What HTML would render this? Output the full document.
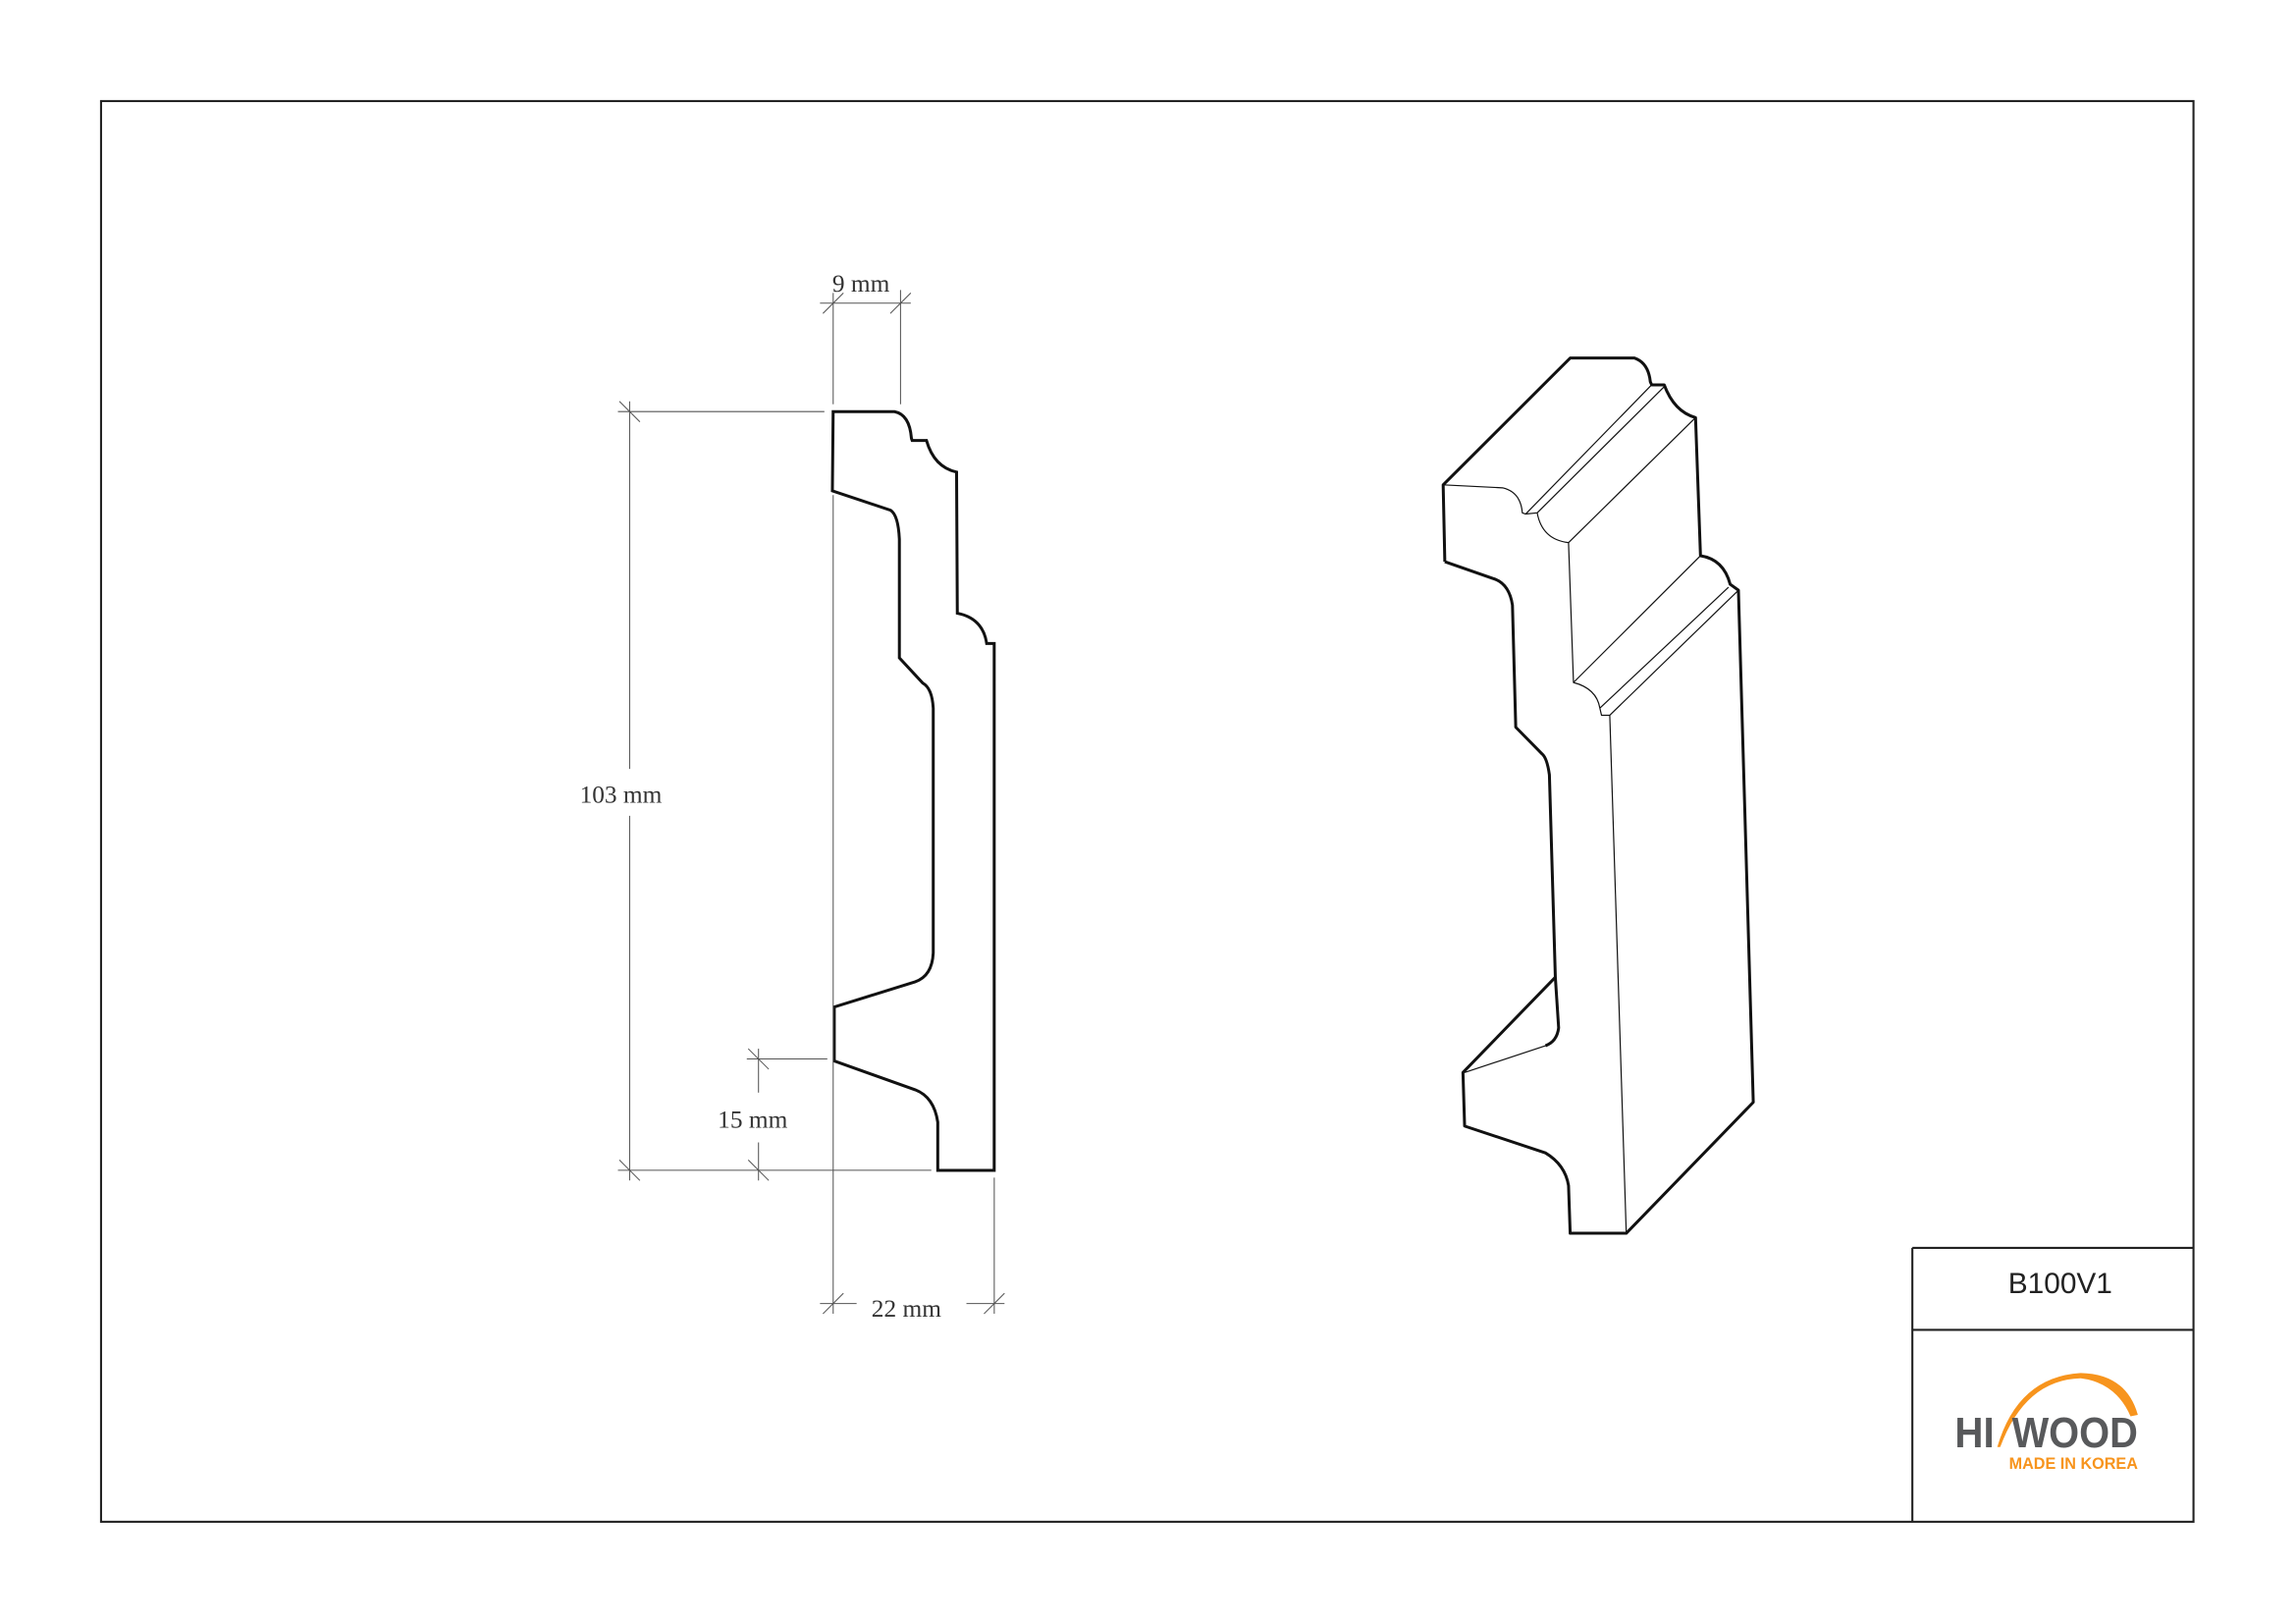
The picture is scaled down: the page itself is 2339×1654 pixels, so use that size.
<!DOCTYPE html>
<html><head><meta charset="utf-8"><style>html,body{margin:0;padding:0;background:#fff}svg{display:block}</style></head>
<body>
<svg width="2339" height="1654" viewBox="0 0 1568 1108.8" xmlns="http://www.w3.org/2000/svg">
<rect x="0" y="0" width="1568" height="1108.8" fill="#fff"/>
<!-- frame -->
<rect x="69" y="69" width="1429" height="970" fill="none" stroke="#222" stroke-width="1.4"/>
<line x1="1306" y1="852" x2="1306" y2="1039" stroke="#222" stroke-width="1.4"/>
<line x1="1306" y1="852" x2="1498" y2="852" stroke="#222" stroke-width="1.4"/>
<line x1="1306" y1="908" x2="1498" y2="908" stroke="#222" stroke-width="1.4"/>
<text x="1407" y="883" font-family="Liberation Sans, sans-serif" font-size="20" fill="#222" text-anchor="middle">B100V1</text>
<!-- logo -->
<path d="M1364,988 Q1378,940 1421,937.4 Q1452,938 1460,966 L1455,967 Q1445,944 1421,941 Q1383,942 1366,988 Z" fill="#f7941d"/>
<text x="1335" y="988" font-family="Liberation Sans, sans-serif" font-weight="bold" font-size="29" fill="#58595b" textLength="27" lengthAdjust="spacingAndGlyphs">HI</text>
<text x="1374" y="988" font-family="Liberation Sans, sans-serif" font-weight="bold" font-size="29" fill="#58595b" textLength="86" lengthAdjust="spacingAndGlyphs">WOOD</text>
<text x="1372" y="1003" font-family="Liberation Sans, sans-serif" font-weight="bold" font-size="11" fill="#f7941d" textLength="88" lengthAdjust="spacingAndGlyphs">MADE IN KOREA</text>

<!-- profile section -->
<g transform="matrix(0.257 0 0 0.4915 368 169)" fill="none" stroke="#111">
<path vector-effect="non-scaling-stroke" stroke-width="3" d="M782,228 L945,228 Q985,232 990,265 L992,268 L1030,268 Q1050,305 1110,312 L1112,508 Q1180,515 1190,550 L1210,550 L1210,1282 L1060,1282 L1060,1215 Q1050,1180 1000,1170 L785,1130 L785,1055 L1000,1020 Q1045,1012 1048,980 L1048,640 Q1045,612 1020,605 L958,570 L958,405 Q955,372 935,365 L780,338 Z"/>
</g>
<!-- dimension lines -->
<g stroke="#555" stroke-width="0.7" fill="none">
<line x1="569" y1="200" x2="569" y2="276"/>
<line x1="569" y1="338" x2="569" y2="897"/>
<line x1="615" y1="198" x2="615" y2="276"/>
<line x1="560" y1="207" x2="622" y2="207"/>
<line x1="562" y1="214" x2="576" y2="200"/><line x1="608" y1="214" x2="622" y2="200"/>
<line x1="430" y1="274" x2="430" y2="525"/><line x1="430" y1="557" x2="430" y2="806"/>
<line x1="422" y1="281" x2="563" y2="281"/>
<line x1="422" y1="799" x2="636" y2="799"/>
<line x1="423" y1="274" x2="437" y2="288"/><line x1="423" y1="792" x2="437" y2="806"/>
<line x1="518" y1="716" x2="518" y2="746"/><line x1="518" y1="780" x2="518" y2="806"/>
<line x1="510" y1="723" x2="565" y2="723"/>
<line x1="511" y1="716" x2="525" y2="730"/><line x1="511" y1="792" x2="525" y2="806"/>
<line x1="560" y1="890" x2="585" y2="890"/><line x1="660" y1="890" x2="686" y2="890"/>
<line x1="679" y1="804" x2="679" y2="897"/>
<line x1="562" y1="897" x2="576" y2="883"/><line x1="672" y1="897" x2="686" y2="883"/>
</g>
<g font-family="Liberation Serif, serif" font-size="17" fill="#333" text-anchor="middle">
<text x="588" y="199">9 mm</text>
<text x="424" y="548">103 mm</text>
<text x="514" y="770">15 mm</text>
<text x="619" y="899">22 mm</text>
</g>

<!-- 3D view -->
<g transform="matrix(0.2253 0 0 0.4065 965.3 228.2)" fill="none" stroke="#111" stroke-linejoin="round">
<path vector-effect="non-scaling-stroke" stroke-width="3" d="M95,382 L90,253 L475,40 L670,40 Q712,48 718,80 L722,85 L760,85 Q790,130 855,140 L870,372 Q940,378 960,420 L985,430 L1030,1290 L645,1510 L475,1510 L470,1430 Q460,1395 400,1375 L155,1330 L150,1240 L430,1080"/>
<path vector-effect="non-scaling-stroke" stroke-width="3" d="M95,382 L240,410 Q290,418 300,455 L310,660 L390,705 Q405,712 412,740 L430,1080 L440,1165 Q435,1188 400,1195"/>
<path vector-effect="non-scaling-stroke" stroke-width="1.2" d="M90,253 L270,258 Q325,265 330,300 L340,302 L375,300"/>
<path vector-effect="non-scaling-stroke" stroke-width="1.2" d="M340,302 L722,85 M375,300 L760,88"/>
<path vector-effect="non-scaling-stroke" stroke-width="1.2" d="M375,300 Q390,345 470,350 L855,140"/>
<path vector-effect="non-scaling-stroke" stroke-width="1.2" d="M470,350 L485,585 L870,372"/>
<path vector-effect="non-scaling-stroke" stroke-width="1.2" d="M485,585 Q555,595 565,628 L570,640 L595,640 L985,430 M565,628 L955,425"/>
<path vector-effect="non-scaling-stroke" stroke-width="1.2" d="M595,640 L645,1510"/>
<path vector-effect="non-scaling-stroke" stroke-width="1.2" d="M155,1240 L400,1195"/>
</g>
</svg>
</body></html>
